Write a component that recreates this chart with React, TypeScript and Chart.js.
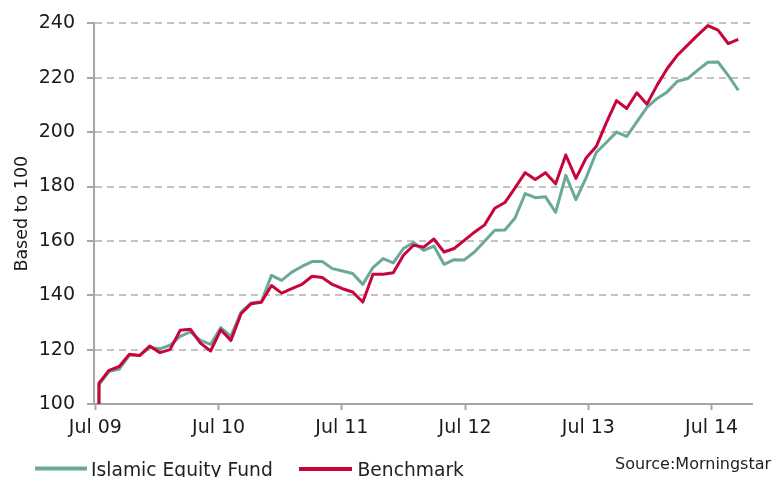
import React, { useEffect, useRef } from 'react';
import { Chart, registerables } from 'chart.js';

Chart.register(...registerables);

// Tick labels on the time axis and where they sit on the month-index axis
const tickLabels = ['Jul 09', 'Jul 10', 'Jul 11', 'Jul 12', 'Jul 13', 'Jul 14'];
const tickMonthIndex = [-0.355, 11.79, 23.935, 36.08, 48.225, 60.37];

// Series (based to 100); first value is the starting base
const fundValues = [
  100, 107, 112, 112.8, 118, 117.8, 120.8, 120.3, 121.6, 124.9, 126.5, 123.4, 121.9, 128.1, 124.9, 133.8,
  137.2, 137.6, 147.3, 145.5, 148.5, 150.6, 152.4, 152.4, 149.8, 148.9, 148.0, 144.0, 150.2, 153.5, 151.9,
  157.2, 159.4, 156.5, 158.1, 151.4, 153.1, 153.0, 155.9, 159.9, 163.9, 164.0, 168.4, 177.4, 175.9, 176.2,
  170.5, 184.1, 175.2, 183.2, 192.5, 196.2, 200.0, 198.4, 203.8, 209.1, 212.4, 214.8, 218.7, 219.7, 222.8,
  225.7, 225.8, 220.9, 215.4,
];
const benchmarkValues = [
  100, 107.7, 112.4, 113.8, 118.3, 117.8, 121.3, 118.9, 120.0, 127.1, 127.5, 122.4, 119.5, 127.3, 123.4, 133.2,
  136.9, 137.4, 143.6, 140.8, 142.4, 144.0, 147.0, 146.5, 144.0, 142.4, 141.2, 137.5, 147.7, 147.7, 148.3,
  154.7, 158.4, 157.7, 160.7, 155.9, 157.2, 160.2, 163.2, 165.9, 172.0, 174.1, 179.5, 185.1, 182.6, 185.1,
  181.0, 191.6, 183.0, 190.5, 194.7, 203.5, 211.6, 208.7, 214.5, 210.3, 217.3, 223.4, 228.3, 232.0, 235.7,
  239.2, 237.5, 232.6, 234.1,
];
// month index of each observation (base and first month share the same date)
const monthIndex = fundValues.map((_, i) => Math.max(0, i - 1));

const seriesNames = ['Islamic Equity Fund', 'Benchmark'];
const sourceText = 'Source:Morningstar';

const GREEN = '#6aa99a';
const RED = '#c8053a';
const AXIS = '#a6a6a6';
const FONT = "'DejaVu Sans', Verdana, sans-serif";

const legendPlugin = {
  id: 'customLegend',
  afterDraw(chart: any) {
    const ctx = chart.ctx;
    ctx.save();
    ctx.lineWidth = 4;
    ctx.strokeStyle = GREEN;
    ctx.beginPath();
    ctx.moveTo(35, 468.5);
    ctx.lineTo(87, 468.5);
    ctx.stroke();
    ctx.strokeStyle = RED;
    ctx.beginPath();
    ctx.moveTo(299, 469);
    ctx.lineTo(352, 469);
    ctx.stroke();
    ctx.fillStyle = '#222';
    ctx.textBaseline = 'alphabetic';
    ctx.textAlign = 'left';
    ctx.font = `18.7px ${FONT}`;
    ctx.fillText(seriesNames[0], 91, 475.5);
    ctx.fillText(seriesNames[1], 357.5, 475.5);
    ctx.font = `16px ${FONT}`;
    ctx.fillText(sourceText, 615, 469);
    ctx.restore();
  },
};

export default function App() {
  const ref = useRef<HTMLCanvasElement>(null);
  useEffect(() => {
    document.body.style.margin = '0';
    const chart = new Chart(ref.current!, {
      type: 'line',
      data: {
        datasets: [
          {
            label: seriesNames[1],
            data: benchmarkValues.map((v, i) => ({ x: monthIndex[i], y: v })),
            borderColor: RED,
            backgroundColor: RED,
            borderWidth: 3,
            pointRadius: 0,
            tension: 0,
            borderJoinStyle: 'round',
          },
          {
            label: seriesNames[0],
            data: fundValues.map((v, i) => ({ x: monthIndex[i], y: v })),
            borderColor: GREEN,
            backgroundColor: GREEN,
            borderWidth: 3,
            pointRadius: 0,
            tension: 0,
            borderJoinStyle: 'round',
          },
        ],
      },
      options: {
        animation: false,
        responsive: false,
        maintainAspectRatio: false,
        layout: { padding: { top: 22, right: 22, left: 0, bottom: 0 } },
        plugins: { legend: { display: false }, tooltip: { enabled: false } },
        scales: {
          x: {
            type: 'linear',
            min: -0.49,
            max: 64.35,
            afterBuildTicks: (scale: any) => {
              scale.ticks = tickMonthIndex.map((v) => ({ value: v }));
            },
            afterFit: (scale: any) => {
              scale.height = 73;
            },
            ticks: {
              autoSkip: false,
              maxRotation: 0,
              padding: 7,
              color: '#1a1a1a',
              font: { family: FONT, size: 19 },
              callback: (_v: any, i: number) => tickLabels[i],
            },
            grid: {
              display: true,
              drawOnChartArea: false,
              drawTicks: true,
              tickLength: 6,
              tickColor: AXIS,
              tickWidth: 2,
            },
            border: { display: true, color: AXIS, width: 2 },
          },
          y: {
            type: 'linear',
            min: 100,
            max: 240,
            afterFit: (scale: any) => {
              scale.width = 94;
            },
            ticks: {
              stepSize: 20,
              padding: 12,
              color: '#1a1a1a',
              font: { family: FONT, size: 19 },
            },
            title: {
              display: true,
              text: 'Based to 100',
              color: '#1a1a1a',
              font: { family: FONT, size: 17.5 },
              padding: { top: 12, bottom: 0 },
            },
            grid: {
              color: '#c3c3c3',
              lineWidth: 2,
              tickLength: 7,
              tickColor: AXIS,
              tickWidth: 2,
            },
            border: { display: true, color: AXIS, width: 2, dash: [7, 5] },
          },
        },
      },
      plugins: [legendPlugin],
    } as any);
    return () => chart.destroy();
  }, []);
  return (
    <div style={{ position: 'absolute', left: 0, top: 0, width: 774, height: 477 }}>
      <canvas ref={ref} width={774} height={477} style={{ display: 'block', width: 774, height: 477 }} />
    </div>
  );
}
